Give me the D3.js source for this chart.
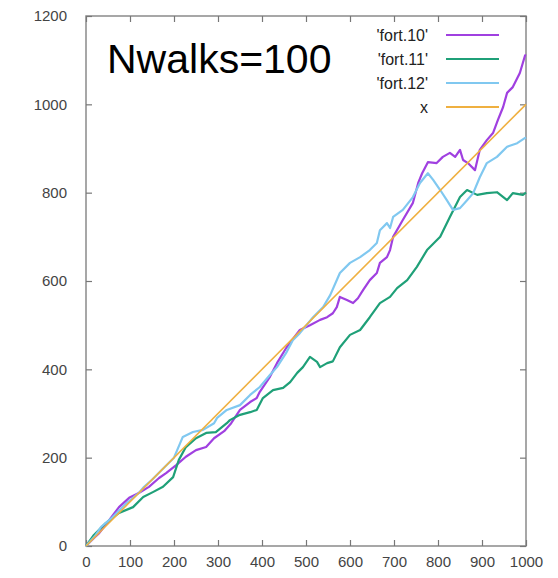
<!DOCTYPE html>
<html><head><meta charset="utf-8">
<script src="https://cdn.jsdelivr.net/npm/d3@7"></script>
<style>body{margin:0;background:#fff;} svg{display:block;}</style>
</head><body>
<svg id="c" width="558" height="578"></svg>
<script>
// ---- data ----
const xTicks = [0,100,200,300,400,500,600,700,800,900,1000];
const yTicks = [0,200,400,600,800,1000,1200];
const seriesNames = ["'fort.10'", "'fort.11'", "'fort.12'", "x"];
const fort10 = [[0,0],[20,20],[30,29],[50,55],[75,88],[98,109],[120,120],[143,134],[166,154],[182,165],[205,183],[227,202],[250,217],[273,224],[291,244],[314,260],[330,278],[350,308],[373,326],[388,335],[395,349],[418,383],[434,414],[456,450],[486,489],[509,500],[532,512],[548,518],[561,527],[570,541],[577,564],[593,557],[607,550],[618,561],[630,580],[645,602],[661,618],[668,641],[684,654],[691,670],[698,700],[720,738],[743,777],[755,822],[764,844],[777,869],[797,867],[811,881],[827,890],[839,881],[850,897],[857,874],[868,867],[884,851],[895,897],[911,919],[925,935],[936,964],[948,994],[957,1026],[970,1039],[986,1071],[998,1111],[1000,1110]];
const fort11 = [[0,0],[18,25],[45,52],[75,75],[107,88],[130,111],[152,122],[175,134],[198,156],[211,195],[227,224],[250,244],[273,256],[295,258],[320,278],[327,285],[350,297],[373,303],[388,308],[402,335],[425,353],[448,358],[464,371],[480,392],[493,405],[509,428],[525,417],[532,405],[548,414],[561,418],[577,450],[600,478],[623,489],[645,518],[668,550],[691,564],[707,584],[730,602],[752,632],[775,670],[805,700],[827,745],[850,790],[866,806],[889,795],[911,799],[934,801],[957,783],[970,799],[993,795],[1000,800]];
const fort12 = [[0,0],[20,22],[34,43],[60,65],[90,95],[120,120],[132,134],[150,150],[180,180],[200,200],[220,247],[243,258],[266,263],[291,278],[298,290],[320,308],[350,319],[373,342],[395,360],[418,387],[434,405],[456,439],[470,466],[486,482],[516,518],[539,541],[555,568],[577,618],[600,641],[623,654],[645,670],[661,686],[668,715],[684,731],[691,720],[698,745],[720,761],[743,790],[759,822],[777,844],[789,829],[805,806],[820,783],[834,761],[850,765],[866,783],[880,799],[895,835],[911,867],[934,881],[957,904],[980,912],[998,924],[1000,925]];
const xline = [[0,0],[1000,1000]];
const colors = ["#a040e0","#1fa078","#80c8f0","#efb040"];
const titleText = "Nwalks=100";

// ---- layout ----
const L = 86, R = 526, T = 16, B = 546;
const svg = d3.select("#c");
const x = d3.scaleLinear().domain([0,1000]).range([L,R]);
const y = d3.scaleLinear().domain([0,1200]).range([B,T]);
const font = "'Liberation Sans', Arial, Helvetica, sans-serif";

// border
svg.append("rect").attr("x",L).attr("y",T).attr("width",R-L).attr("height",B-T)
  .attr("fill","none").attr("stroke","#8a8a8a").attr("stroke-width",1.5);

function styleAxis(g){
  g.select(".domain").remove();
  g.selectAll(".tick line").attr("stroke","#777").attr("stroke-width",1.2);
  g.selectAll(".tick text").attr("fill","#444").style("font-family",font).style("font-size","15px");
}
svg.append("g").attr("transform",`translate(${L},0)`)
  .call(d3.axisLeft(y).tickValues(yTicks).tickSize(-6).tickPadding(19).tickFormat(d3.format("d"))).call(styleAxis);
svg.append("g").attr("transform",`translate(${R},0)`)
  .call(d3.axisRight(y).tickValues(yTicks).tickSize(-6).tickFormat("")).call(styleAxis);
svg.append("g").attr("transform",`translate(0,${B})`)
  .call(d3.axisBottom(x).tickValues(xTicks).tickSize(-6).tickPadding(10).tickFormat(d3.format("d"))).call(styleAxis);
svg.append("g").attr("transform",`translate(0,${T})`)
  .call(d3.axisTop(x).tickValues(xTicks).tickSize(-6).tickFormat("")).call(styleAxis);

// lines
const line = d3.line().x(d=>x(d[0])).y(d=>y(d[1]));
const data = [fort10, fort11, fort12, xline];
data.forEach((s,i)=>{
  svg.append("path").datum(s).attr("d",line).attr("fill","none")
    .attr("stroke",colors[i]).attr("stroke-width", i===3?1.6:2.2)
    .attr("stroke-linejoin","round");
});

// legend
const legY = [35,59,83,107];
seriesNames.forEach((n,i)=>{
  svg.append("text").attr("x",428).attr("y",legY[i]).attr("dy","0.35em")
    .attr("text-anchor","end").style("font-family",font).style("font-size","16px")
    .attr("fill","#222").text(n);
  svg.append("line").attr("x1",446).attr("x2",499).attr("y1",legY[i]).attr("y2",legY[i])
    .attr("stroke",colors[i]).attr("stroke-width",2.2);
});

// title
svg.append("text").attr("x",107).attr("y",73).style("font-family",font)
  .style("font-size","41px").attr("fill","#000").text(titleText);
</script>
</body></html>
